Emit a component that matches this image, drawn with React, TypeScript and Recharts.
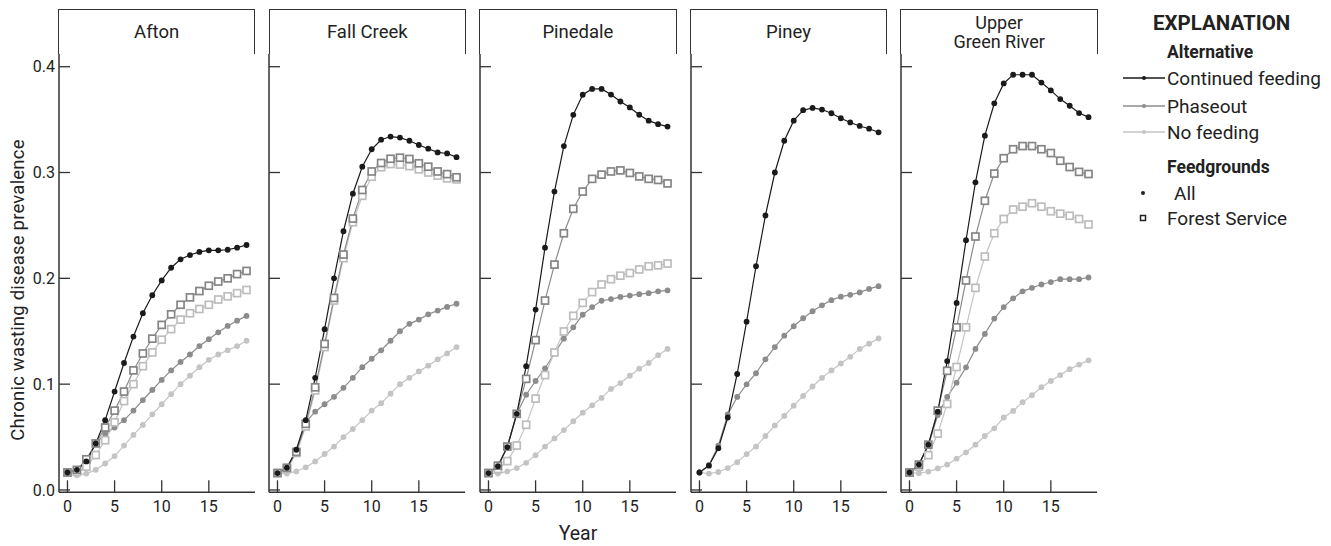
import React from 'react';
import { LineChart, Line, XAxis, YAxis } from 'recharts';

const years = [0, 1, 2, 3, 4, 5, 6, 7, 8, 9, 10, 11, 12, 13, 14, 15, 16, 17, 18, 19];
const xTicks = [0, 5, 10, 15];
const yTicks = [0, 0.1, 0.2, 0.3, 0.4];
const panelNames = ['Afton', 'Fall Creek', 'Pinedale', 'Piney', 'Upper\nGreen River'];

// Afton
const aftonContinued = [0.0165, 0.019, 0.027, 0.044, 0.066, 0.093, 0.12, 0.145, 0.167, 0.184, 0.198, 0.21, 0.218, 0.222, 0.225, 0.2265, 0.2265, 0.227, 0.229, 0.2315];
const aftonPhaseoutAll = [0.0165, 0.018, 0.027, 0.044, 0.053, 0.059, 0.066, 0.075, 0.085, 0.0945, 0.104, 0.113, 0.121, 0.128, 0.136, 0.1425, 0.149, 0.155, 0.16, 0.1645];
const aftonNoFeedingAll = [0.0165, 0.014, 0.0155, 0.019, 0.025, 0.032, 0.042, 0.052, 0.0615, 0.0715, 0.081, 0.0905, 0.1, 0.108, 0.116, 0.123, 0.128, 0.132, 0.136, 0.141];
const aftonPhaseoutFS = [0.0165, 0.019, 0.029, 0.044, 0.059, 0.075, 0.093, 0.113, 0.129, 0.143, 0.156, 0.166, 0.175, 0.182, 0.188, 0.193, 0.197, 0.2, 0.204, 0.207];
const aftonNoFeedingFS = [0.0165, 0.017, 0.022, 0.033, 0.047, 0.064, 0.084, 0.1, 0.117, 0.13, 0.142, 0.152, 0.161, 0.167, 0.171, 0.175, 0.18, 0.183, 0.186, 0.189];

// Fall Creek
const fallContinued = [0.016, 0.021, 0.038, 0.066, 0.106, 0.152, 0.2, 0.2445, 0.28, 0.3055, 0.322, 0.331, 0.334, 0.333, 0.33, 0.326, 0.3225, 0.319, 0.318, 0.3145];
const fallPhaseoutAll = [0.016, 0.0198, 0.036, 0.064, 0.074, 0.081, 0.088, 0.0965, 0.106, 0.116, 0.124, 0.132, 0.141, 0.15, 0.157, 0.161, 0.166, 0.1695, 0.173, 0.176];
const fallNoFeedingAll = [0.016, 0.0155, 0.0175, 0.0214, 0.027, 0.034, 0.041, 0.05, 0.0576, 0.066, 0.075, 0.082, 0.091, 0.1, 0.106, 0.112, 0.1175, 0.1235, 0.129, 0.135];
const fallPhaseoutFS = [0.016, 0.021, 0.036, 0.0625, 0.097, 0.138, 0.1815, 0.2225, 0.2565, 0.2835, 0.301, 0.309, 0.313, 0.314, 0.3128, 0.3087, 0.3055, 0.301, 0.2985, 0.2955];
const fallNoFeedingFS = [0.016, 0.02, 0.035, 0.06, 0.094, 0.135, 0.179, 0.219, 0.253, 0.278, 0.296, 0.305, 0.308, 0.3075, 0.306, 0.303, 0.3, 0.297, 0.2945, 0.2935];

// Pinedale
const pineContinued = [0.016, 0.0225, 0.0405, 0.072, 0.117, 0.1705, 0.229, 0.282, 0.325, 0.3545, 0.3735, 0.379, 0.379, 0.3737, 0.3671, 0.3615, 0.3546, 0.349, 0.3457, 0.3434];
const pinePhaseoutAll = [0.016, 0.0225, 0.041, 0.072, 0.09, 0.103, 0.115, 0.129, 0.143, 0.1537, 0.1656, 0.1728, 0.1788, 0.1804, 0.1824, 0.1837, 0.185, 0.186, 0.1877, 0.1886];
const pineNoFeedingAll = [0.016, 0.0155, 0.0175, 0.0207, 0.0257, 0.0329, 0.041, 0.0487, 0.0566, 0.065, 0.073, 0.08, 0.087, 0.0955, 0.101, 0.108, 0.1146, 0.12, 0.1274, 0.1333];
const pinePhaseoutFS = [0.016, 0.023, 0.041, 0.072, 0.105, 0.1416, 0.179, 0.213, 0.2426, 0.2657, 0.282, 0.294, 0.298, 0.301, 0.302, 0.2996, 0.2963, 0.294, 0.293, 0.2897];
const pineNoFeedingFS = [0.016, 0.0198, 0.0273, 0.042, 0.0616, 0.0863, 0.1086, 0.13, 0.1498, 0.1646, 0.1768, 0.187, 0.1942, 0.1992, 0.2025, 0.205, 0.2084, 0.2114, 0.2123, 0.214];

// Piney (no Forest Service feedgrounds)
const pineyContinued = [0.0165, 0.023, 0.0395, 0.0685, 0.1096, 0.159, 0.2114, 0.2594, 0.3, 0.33, 0.349, 0.3589, 0.361, 0.3595, 0.356, 0.3513, 0.3473, 0.344, 0.3414, 0.338];
const pineyPhaseoutAll = [0.0165, 0.0237, 0.0418, 0.0714, 0.0879, 0.0998, 0.1103, 0.1235, 0.135, 0.1458, 0.1547, 0.1623, 0.1689, 0.1745, 0.1794, 0.1827, 0.1844, 0.1867, 0.19, 0.1926];
const pineyNoFeedingAll = [0.0165, 0.0155, 0.017, 0.0207, 0.0263, 0.0339, 0.041, 0.051, 0.061, 0.07, 0.0797, 0.0889, 0.0978, 0.106, 0.113, 0.1195, 0.1258, 0.1333, 0.1383, 0.1432];

// Upper Green River
const ugrContinued = [0.0165, 0.024, 0.0428, 0.074, 0.1218, 0.1768, 0.236, 0.2907, 0.3348, 0.3654, 0.3842, 0.3924, 0.3924, 0.3924, 0.385, 0.3776, 0.3694, 0.3631, 0.3562, 0.3523];
const ugrPhaseoutAll = [0.0165, 0.024, 0.0418, 0.0708, 0.0879, 0.1014, 0.1159, 0.1333, 0.1475, 0.162, 0.1728, 0.1811, 0.1877, 0.191, 0.1942, 0.1965, 0.1992, 0.1992, 0.1992, 0.2008];
const ugrNoFeedingAll = [0.0165, 0.0158, 0.0174, 0.0204, 0.024, 0.0296, 0.0356, 0.0428, 0.051, 0.0583, 0.0685, 0.0747, 0.083, 0.0895, 0.0971, 0.103, 0.1086, 0.1142, 0.1185, 0.1225];
const ugrPhaseoutFS = [0.0165, 0.024, 0.0428, 0.075, 0.1126, 0.1537, 0.198, 0.2395, 0.2733, 0.299, 0.3135, 0.322, 0.325, 0.325, 0.322, 0.3184, 0.3111, 0.3052, 0.3006, 0.2986];
const ugrNoFeedingFS = [0.0165, 0.022, 0.0329, 0.0533, 0.0813, 0.1162, 0.1537, 0.191, 0.2206, 0.2426, 0.2561, 0.265, 0.2677, 0.271, 0.2677, 0.2634, 0.2611, 0.2591, 0.2561, 0.2509];

const panelSeries = [
  { cont: aftonContinued, phAll: aftonPhaseoutAll, noAll: aftonNoFeedingAll, phFS: aftonPhaseoutFS, noFS: aftonNoFeedingFS },
  { cont: fallContinued, phAll: fallPhaseoutAll, noAll: fallNoFeedingAll, phFS: fallPhaseoutFS, noFS: fallNoFeedingFS },
  { cont: pineContinued, phAll: pinePhaseoutAll, noAll: pineNoFeedingAll, phFS: pinePhaseoutFS, noFS: pineNoFeedingFS },
  { cont: pineyContinued, phAll: pineyPhaseoutAll, noAll: pineyNoFeedingAll, phFS: null, noFS: null },
  { cont: ugrContinued, phAll: ugrPhaseoutAll, noAll: ugrNoFeedingAll, phFS: ugrPhaseoutFS, noFS: ugrNoFeedingFS },
];

const FONT = "Roboto, 'Liberation Sans', Arial, sans-serif";
const C_CONT = '#1a1a1a';
const C_PH = '#8c8c8c';
const C_NO = '#c4c4c4';
const AXIS = '#333';
const TXT = '#222';

const PLOT_TOP = 54;
const PLOT_BOTTOM = 492.3;
const PLOT_W = 196;
const LEFT_PAD = 50;
const RIGHT_PAD = 10;
const CHART_H = 546;
const panelLefts = [58.7, 269.3, 479.9, 690.5, 901.1];

const LeftTick = (props: any) => {
  const { x, y, payload, showLabel } = props;
  return (
    <g>
      <line x1={x} x2={x + 11} y1={y} y2={y} stroke={AXIS} strokeWidth={1.3} />
      {showLabel ? (
        <text x={x - 4} y={y + 5.7} textAnchor="end" fontFamily={FONT} fontSize={16} fill={TXT}>
          {Number(payload.value).toFixed(1)}
        </text>
      ) : null}
    </g>
  );
};
const RightTick = (props: any) => {
  const { x, y } = props;
  return <line x1={x} x2={x - 11} y1={y} y2={y} stroke={AXIS} strokeWidth={1.3} />;
};
const BottomTick = (props: any) => {
  const { x, y, payload } = props;
  return (
    <g>
      <line x1={x} x2={x} y1={y} y2={y - 12} stroke={AXIS} strokeWidth={1.3} />
      <text x={x} y={y + 20} textAnchor="middle" fontFamily={FONT} fontSize={16} fill={TXT}>
        {payload.value}
      </text>
    </g>
  );
};
const TopTick = (props: any) => {
  const { x, y } = props;
  return <line x1={x} x2={x} y1={y} y2={y + 12} stroke={AXIS} strokeWidth={1.3} />;
};

const squareDot = (color: string) => (p: any) => {
  const { cx, cy, index } = p;
  if (cx == null || cy == null) return <g key={`e${index}`} />;
  return <rect key={`s${index}`} x={cx - 3.5} y={cy - 3.5} width={7} height={7} fill="#fff" stroke={color} strokeWidth={1.7} />;
};

function Panel({ idx }: { idx: number }) {
  const s = panelSeries[idx];
  const rows = years.map((yr, i) => ({
    year: yr,
    cont: s.cont[i],
    phAll: s.phAll[i],
    noAll: s.noAll[i],
    phFS: s.phFS ? s.phFS[i] : null,
    noFS: s.noFS ? s.noFS[i] : null,
  }));
  const left = panelLefts[idx];
  const xDomain: [number, number] = [-0.9, 19.9];
  const yDomain: [number, number] = [-0.0022, 0.412];
  return (
    <div style={{ position: 'absolute', left: left - LEFT_PAD, top: 0 }}>
      <LineChart
        width={LEFT_PAD + PLOT_W + RIGHT_PAD}
        height={CHART_H}
        data={rows}
        margin={{ top: PLOT_TOP, right: RIGHT_PAD, bottom: 0, left: 0 }}
      >
        <XAxis xAxisId="b" dataKey="year" type="number" domain={xDomain} allowDataOverflow ticks={xTicks}
          orientation="bottom" height={CHART_H - PLOT_BOTTOM} tickSize={0} tickMargin={0} tickLine={false}
          axisLine={{ stroke: AXIS, strokeWidth: 1.5 }} tick={<BottomTick />} interval={0} />
        <XAxis xAxisId="t" dataKey="year" type="number" domain={xDomain} allowDataOverflow ticks={xTicks}
          orientation="top" height={0} tickSize={0} tickMargin={0} tickLine={false}
          axisLine={{ stroke: AXIS, strokeWidth: 1.5 }} tick={<TopTick />} interval={0} />
        <YAxis yAxisId="l" type="number" domain={yDomain} allowDataOverflow ticks={yTicks}
          orientation="left" width={LEFT_PAD} tickSize={0} tickMargin={0} tickLine={false}
          axisLine={{ stroke: AXIS, strokeWidth: 1.5 }} tick={<LeftTick showLabel={idx === 0} />} interval={0} />
        <YAxis yAxisId="r" type="number" domain={yDomain} allowDataOverflow ticks={yTicks}
          orientation="right" width={0} tickSize={0} tickMargin={0} tickLine={false}
          axisLine={{ stroke: AXIS, strokeWidth: 1.5 }} tick={<RightTick />} interval={0} />
        <Line xAxisId="b" yAxisId="l" dataKey="noAll" stroke={C_NO} strokeWidth={1.2}
          dot={{ r: 2.9, fill: C_NO, stroke: 'none' }} isAnimationActive={false} />
        <Line xAxisId="b" yAxisId="l" dataKey="phAll" stroke={C_PH} strokeWidth={1.2}
          dot={{ r: 2.9, fill: C_PH, stroke: 'none' }} isAnimationActive={false} />
        {s.noFS ? (
          <Line xAxisId="b" yAxisId="l" dataKey="noFS" stroke={C_NO} strokeWidth={1.2}
            dot={squareDot('#bdbdbd')} isAnimationActive={false} />
        ) : null}
        {s.phFS ? (
          <Line xAxisId="b" yAxisId="l" dataKey="phFS" stroke={C_PH} strokeWidth={1.2}
            dot={squareDot('#858585')} isAnimationActive={false} />
        ) : null}
        <Line xAxisId="b" yAxisId="l" dataKey="cont" stroke={C_CONT} strokeWidth={1.2}
          dot={{ r: 2.9, fill: C_CONT, stroke: 'none' }} isAnimationActive={false} />
      </LineChart>
    </div>
  );
}

function Header({ idx }: { idx: number }) {
  const lines = panelNames[idx].split('\n');
  const two = lines.length > 1;
  return (
    <div
      style={{
        position: 'absolute',
        left: panelLefts[idx] - 0.75,
        top: 8.5,
        width: PLOT_W + 1.5,
        height: PLOT_TOP - 8.5,
        boxSizing: 'border-box',
        border: `1.5px solid ${AXIS}`,
        borderBottom: 'none',
        display: 'flex',
        flexDirection: 'column',
        alignItems: 'center',
        justifyContent: 'center',
        fontFamily: FONT,
        fontSize: two ? 18 : 18.5,
        lineHeight: two ? '19px' : '22px',
        color: TXT,
      }}
    >
      {lines.map((l, i) => (
        <div key={i}>{l}</div>
      ))}
    </div>
  );
}

function Legend() {
  const rows = [
    { label: 'Continued feeding', color: C_CONT, y: 78 },
    { label: 'Phaseout', color: C_PH, y: 106 },
    { label: 'No feeding', color: C_NO, y: 132 },
  ];
  return (
    <svg width={1331} height={546} style={{ position: 'absolute', left: 0, top: 0, pointerEvents: 'none' }}>
      <text x={18} y={290} transform="rotate(-90 18 290)" textAnchor="middle" dominantBaseline="central"
        fontFamily={FONT} fontSize={18.5} letterSpacing={0.2} fill={TXT}>
        Chronic wasting disease prevalence
      </text>
      <text x={578} y={540} textAnchor="middle" fontFamily={FONT} fontSize={19.5} fill={TXT}>
        Year
      </text>
      <text x={1153} y={29.5} fontFamily={FONT} fontWeight="bold" fontSize={20.5} fill={TXT}>
        EXPLANATION
      </text>
      <text x={1167} y={58} fontFamily={FONT} fontWeight="bold" fontSize={17.5} fill={TXT}>
        Alternative
      </text>
      {rows.map((r) => (
        <g key={r.label}>
          <line x1={1123} x2={1165} y1={r.y} y2={r.y} stroke={r.color} strokeWidth={1.5} />
          <circle cx={1144} cy={r.y} r={2} fill={r.color} />
          <text x={1167} y={r.y + 6.9} fontFamily={FONT} fontSize={19} fill={TXT}>
            {r.label}
          </text>
        </g>
      ))}
      <text x={1167} y={173} fontFamily={FONT} fontWeight="bold" fontSize={17.5} fill={TXT}>
        Feedgrounds
      </text>
      <circle cx={1143} cy={193} r={2} fill={TXT} />
      <text x={1174} y={199.9} fontFamily={FONT} fontSize={19} fill={TXT}>All</text>
      <rect x={1140.5} y={215.5} width={5} height={5} fill="#fff" stroke={TXT} strokeWidth={1.5} />
      <text x={1167} y={224.9} fontFamily={FONT} fontSize={19} fill={TXT}>Forest Service</text>
    </svg>
  );
}

export default function App() {
  return (
    <div style={{ position: 'absolute', left: 0, top: 0, width: 1331, height: 546, background: '#fff', overflow: 'hidden' }}>
      {panelNames.map((_, i) => (
        <Header key={`h${i}`} idx={i} />
      ))}
      {panelNames.map((_, i) => (
        <Panel key={`p${i}`} idx={i} />
      ))}
      <Legend />
    </div>
  );
}
